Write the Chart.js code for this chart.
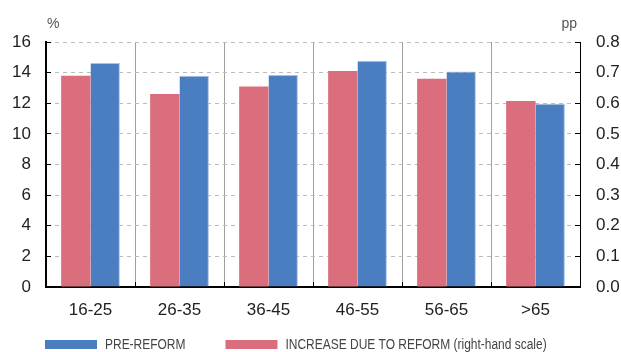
<!DOCTYPE html>
<html>
<head>
<meta charset="utf-8">
<script src="https://cdn.jsdelivr.net/npm/chart.js@4.4.1/dist/chart.umd.min.js"></script>
<style>
  html, body { margin: 0; padding: 0; background: #fff; }
  #wrap { position: relative; width: 621px; height: 352px; }
</style>
</head>
<body>
<div id="wrap"><canvas id="c" width="621" height="352"></canvas></div>
<script>
// Age groups
const ageGroups = ['16-25', '26-35', '36-45', '46-55', '56-65', '>65'];
// Pre-reform rate, % (left-hand scale)
const preReform = [14.63, 13.80, 13.84, 14.78, 14.08, 11.97];
// Increase due to the reform, pp (right-hand scale)
const reformIncrease = [0.69, 0.63, 0.655, 0.705, 0.68, 0.607];
// Axis ranges and tick steps
const leftTicks = { min: 0, max: 16, step: 2 };
const rightTicks = { min: 0, max: 0.8, step: 0.1 };

const BLUE = 'rgb(74,126,192)';
const RED = 'rgb(219,110,125)';
const FONT = "'Liberation Sans', Arial, sans-serif";

// Unit captions above the two value axes
const unitCaptions = {
  id: 'unitCaptions',
  afterDraw(chart) {
    const { ctx, chartArea } = chart;
    ctx.save();
    ctx.fillStyle = '#555';
    ctx.font = '14px ' + FONT;
    ctx.textBaseline = 'alphabetic';
    ctx.textAlign = 'left';
    ctx.fillText('%', chartArea.left + 1, chartArea.top - 14);
    ctx.textAlign = 'right';
    ctx.fillText('pp', chartArea.right - 3, chartArea.top - 14);
    ctx.restore();
  }
};

// Single-row legend under the axis, condensed lettering, last dataset first
const bottomLegend = {
  id: 'bottomLegend',
  afterDraw(chart) {
    const { ctx } = chart;
    const squeeze = 0.855;
    const boxW = 52, boxH = 9, gapText = 8, gapItem = 40;
    let x = 45;
    const yMid = 344.5;
    ctx.save();
    ctx.font = '14px ' + FONT;
    ctx.textBaseline = 'middle';
    ctx.textAlign = 'left';
    const sets = chart.data.datasets.slice().reverse();
    sets.forEach(ds => {
      ctx.fillStyle = ds.backgroundColor;
      ctx.fillRect(x, yMid - boxH / 2, boxW, boxH);
      const tx = x + boxW + gapText;
      const w = ctx.measureText(ds.label).width * squeeze;
      ctx.save();
      ctx.translate(tx, yMid + 0.5);
      ctx.scale(squeeze, 1);
      ctx.fillStyle = '#444';
      ctx.fillText(ds.label, 0, 0);
      ctx.restore();
      x = tx + w + gapItem;
    });
    ctx.restore();
  }
};

new Chart(document.getElementById('c'), {
  type: 'bar',
  data: {
    labels: ageGroups,
    datasets: [
      {
        label: 'INCREASE DUE TO REFORM (right-hand scale)',
        data: reformIncrease,
        yAxisID: 'y1',
        backgroundColor: RED,
        borderWidth: 0,
        categoryPercentage: 0.66,
        barPercentage: 1.0
      },
      {
        label: 'PRE-REFORM',
        data: preReform,
        yAxisID: 'y',
        backgroundColor: BLUE,
        borderColor: 'rgb(170,194,228)',
        borderWidth: { top: 1, left: 0, right: 1, bottom: 0 },
        borderSkipped: 'bottom',
        categoryPercentage: 0.66,
        barPercentage: 1.0
      }
    ]
  },
  options: {
    responsive: false,
    animation: false,
    events: [],
    layout: { padding: { top: 42, left: 5, right: 0, bottom: 0 } },
    plugins: {
      tooltip: { enabled: false },
      legend: { display: false }
    },
    scales: {
      x: {
        grid: {
          offset: true,
          color: '#a0a0a0',
          lineWidth: 1,
          drawTicks: true,
          tickLength: -5,
          tickColor: '#000'
        },
        border: { display: true, color: '#000', width: 2 },
        ticks: {
          color: '#222',
          font: { family: FONT, size: 17 },
          padding: 18
        },
        afterFit(scale) { scale.height = 65; }
      },
      y: {
        position: 'left',
        min: leftTicks.min,
        max: leftTicks.max,
        ticks: {
          stepSize: leftTicks.step,
          color: '#222',
          font: { family: FONT, size: 17 },
          padding: 20
        },
        grid: {
          color: '#bbb',
          lineWidth: 1,
          drawTicks: true,
          tickLength: -5,
          tickColor: '#000'
        },
        border: { display: true, color: '#000', width: 2, dash: [4, 4] },
        afterFit(scale) { scale.width = 41; }
      },
      y1: {
        position: 'right',
        min: rightTicks.min,
        max: rightTicks.max,
        ticks: {
          stepSize: rightTicks.step,
          color: '#222',
          font: { family: FONT, size: 17 },
          padding: 21,
          callback: v => Number(v).toFixed(1)
        },
        grid: {
          drawOnChartArea: false,
          drawTicks: true,
          tickLength: -5,
          tickColor: '#000'
        },
        border: { display: true, color: '#000', width: 1 },
        afterFit(scale) { scale.width = 41; }
      }
    }
  },
  plugins: [unitCaptions, bottomLegend]
});
</script>
</body>
</html>
